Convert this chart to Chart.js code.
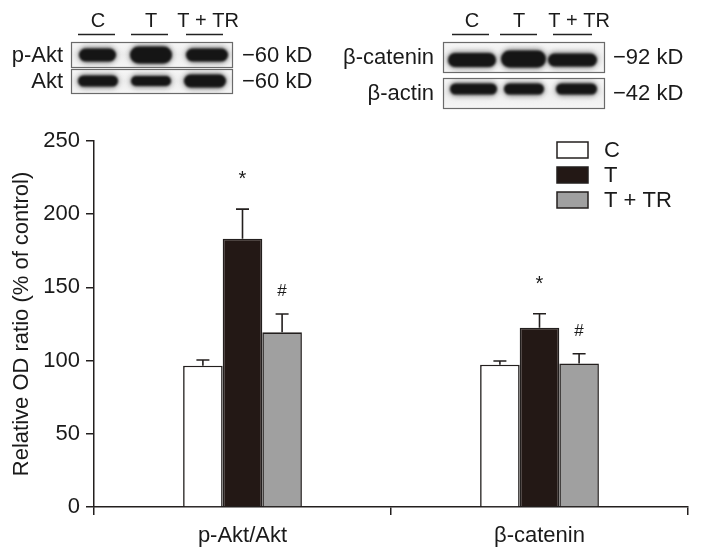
<!DOCTYPE html>
<html>
<head>
<meta charset="utf-8">
<script src="https://cdn.jsdelivr.net/npm/chart.js@4.4.0/dist/chart.umd.min.js"></script>
<style>
  html, body { margin: 0; padding: 0; background: #fff; }
  #wrap { width: 701px; height: 556px; }
</style>
</head>
<body>
<div id="wrap"><canvas id="odChart" width="701" height="556"></canvas></div>
<script>
// values
var groups = ['p-Akt/Akt', 'β-catenin'];
var seriesNames = ['C', 'T', 'T + TR'];
var valC = [96.5, 97.2];
var valT = [183.3, 122.5];
var valTR = [119.3, 98.1];
var errC = [3.9, 2.5];
var errT = [20.2, 9.5];
var errTR = [12.5, 6.6];
var markC = ['', ''];
var markT = ['*', '*'];
var markTR = ['#', '#'];
var yTicks = [0, 50, 100, 150, 200, 250];

var FONT = 'Liberation Sans, Arial, sans-serif';
var INK = '#231f1e';
var TXT = '#1a1a1a';

// western blot panels (decoration above the chart)
var blots = [
  {
    rowLabels: ['p-Akt', 'Akt'], kd: ['\u221260 kD', '\u221260 kD'],
    labelRight: 63, kdLeft: 242, boxX: [71, 232],
    rows: [[42, 67], [69, 93]],
    laneX: [98, 151, 208],
    underline: [[78, 115], [131, 168], [186, 223]],
    bands: [
      [[79, 116, 55, 13], [130, 172, 55, 17], [186, 228, 55, 13]],
      [[78, 118, 81, 11], [131, 171, 81, 10], [184, 226, 81, 13]]
    ]
  },
  {
    rowLabels: ['β-catenin', 'β-actin'], kd: ['\u221292 kD', '\u221242 kD'],
    labelRight: 434, kdLeft: 613, boxX: [443, 604],
    rows: [[42, 72], [78, 108]],
    laneX: [472, 519, 579],
    underline: [[452, 489], [500, 537], [553, 592]],
    bands: [
      [[448, 496, 60, 14], [501, 546, 59, 17], [548, 597, 60, 13]],
      [[450, 497, 89, 11], [504, 544, 89, 11], [556, 597, 89, 11]]
    ]
  }
];

function roundBand(ctx, x0, x1, yc, h) {
  var r = h / 2;
  ctx.beginPath();
  ctx.moveTo(x0 + r, yc - r);
  ctx.lineTo(x1 - r, yc - r);
  ctx.arc(x1 - r, yc, r, -Math.PI / 2, Math.PI / 2);
  ctx.lineTo(x0 + r, yc + r);
  ctx.arc(x0 + r, yc, r, Math.PI / 2, Math.PI * 1.5);
  ctx.closePath();
  ctx.fill();
}

var extrasPlugin = {
  id: 'extras',
  afterDatasetsDraw: function (chart) {
    var ctx = chart.ctx;
    var yScale = chart.scales.y;
    chart.data.datasets.forEach(function (ds, i) {
      var meta = chart.getDatasetMeta(i);
      meta.data.forEach(function (bar, j) {
        var base = yScale.getPixelForValue(ds.data[j]);
        var top = yScale.getPixelForValue(ds.data[j] + ds.errors[j]);
        ctx.save();
        ctx.strokeStyle = INK;
        ctx.lineWidth = 1.6;
        ctx.beginPath();
        ctx.moveTo(bar.x, base);
        ctx.lineTo(bar.x, top);
        ctx.moveTo(bar.x - 6.5, top);
        ctx.lineTo(bar.x + 6.5, top);
        ctx.stroke();
        var m = ds.marks[j];
        if (m) {
          ctx.fillStyle = TXT;
          ctx.textAlign = 'center';
          ctx.textBaseline = 'alphabetic';
          if (m === '*') {
            ctx.font = '20px ' + FONT;
            ctx.fillText(m, bar.x, top - 24);
          } else {
            ctx.font = '17px ' + FONT;
            ctx.fillText(m, bar.x, top - 18);
          }
        }
        ctx.restore();
      });
    });
  },
  afterDraw: function (chart) {
    var ctx = chart.ctx;
    // legend
    ctx.save();
    chart.data.datasets.forEach(function (ds, i) {
      var yc = 150 + i * 25;
      ctx.fillStyle = ds.backgroundColor;
      ctx.fillRect(557, yc - 8, 31, 16);
      ctx.strokeStyle = INK;
      ctx.lineWidth = 1.5;
      ctx.strokeRect(557, yc - 8, 31, 16);
      ctx.fillStyle = TXT;
      ctx.font = '22px ' + FONT;
      ctx.textAlign = 'left';
      ctx.textBaseline = 'middle';
      ctx.fillText(ds.label, 604, yc + 1);
    });
    ctx.restore();

    // blots
    blots.forEach(function (b) {
      ctx.save();
      ctx.font = '20px ' + FONT;
      ctx.fillStyle = TXT;
      ctx.textBaseline = 'alphabetic';
      ctx.textAlign = 'center';
      seriesNames.forEach(function (s, k) {
        ctx.fillText(s, b.laneX[k], 27);
        ctx.strokeStyle = '#222';
        ctx.lineWidth = 1.3;
        ctx.beginPath();
        ctx.moveTo(b.underline[k][0], 34.5);
        ctx.lineTo(b.underline[k][1], 34.5);
        ctx.stroke();
      });
      ctx.font = '22px ' + FONT;
      b.rows.forEach(function (r, ri) {
        var w = b.boxX[1] - b.boxX[0];
        var g = ctx.createLinearGradient(0, r[0], 0, r[1]);
        g.addColorStop(0, '#f7f7f7');
        g.addColorStop(0.5, '#ededed');
        g.addColorStop(1, '#f5f5f5');
        ctx.fillStyle = g;
        ctx.fillRect(b.boxX[0], r[0], w, r[1] - r[0]);
        ctx.save();
        ctx.beginPath();
        ctx.rect(b.boxX[0], r[0], w, r[1] - r[0]);
        ctx.clip();
        b.bands[ri].forEach(function (bd) {
          ctx.filter = 'blur(2.5px)';
          ctx.fillStyle = 'rgba(60,60,60,0.5)';
          roundBand(ctx, bd[0] - 1, bd[1] + 1, bd[2], bd[3] + 4);
          ctx.filter = 'blur(1.3px)';
          ctx.fillStyle = '#151515';
          roundBand(ctx, bd[0], bd[1], bd[2], bd[3]);
        });
        ctx.restore();
        ctx.filter = 'none';
        ctx.strokeStyle = '#6a6a6a';
        ctx.lineWidth = 1.2;
        ctx.strokeRect(b.boxX[0] + 0.5, r[0] + 0.5, w, r[1] - r[0]);
        var yc = (r[0] + r[1]) / 2;
        ctx.fillStyle = TXT;
        ctx.textBaseline = 'middle';
        ctx.textAlign = 'right';
        ctx.fillText(b.rowLabels[ri], b.labelRight, yc + 1);
        ctx.textAlign = 'left';
        ctx.fillText(b.kd[ri], b.kdLeft, yc + 1);
      });
      ctx.restore();
    });
  }
};

var ctx = document.getElementById('odChart').getContext('2d');
var odChart = new Chart(ctx, {
  type: 'bar',
  data: {
    labels: groups,
    datasets: [
      { label: seriesNames[0], data: valC, errors: errC, marks: markC, backgroundColor: '#ffffff' },
      { label: seriesNames[1], data: valT, errors: errT, marks: markT, backgroundColor: '#231815' },
      { label: seriesNames[2], data: valTR, errors: errTR, marks: markTR, backgroundColor: '#a0a0a0' }
    ].map(function (d) {
      d.borderColor = INK;
      d.borderWidth = 1.6;
      d.categoryPercentage = 0.4;
      d.barPercentage = 1.0;
      return d;
    })
  },
  options: {
    responsive: false,
    animation: false,
    devicePixelRatio: 1,
    layout: { padding: { top: 141, right: 13, left: 0, bottom: 0 } },
    plugins: { legend: { display: false }, tooltip: { enabled: false } },
    scales: {
      x: {
        offset: true,
        grid: { display: true, offset: true, drawOnChartArea: false, tickLength: 8, color: INK, lineWidth: 1.5 },
        border: { color: INK, width: 1.5 },
        ticks: { color: TXT, padding: 8, font: { family: FONT, size: 22 } },
        afterFit: function (scale) { scale.height = 49; }
      },
      y: {
        min: 0,
        max: 250,
        afterBuildTicks: function (scale) {
          scale.ticks = yTicks.map(function (v) { return { value: v }; });
        },
        grid: { display: true, drawOnChartArea: false, tickLength: 8, color: INK, lineWidth: 1.5 },
        border: { color: INK, width: 1.5 },
        ticks: { color: TXT, padding: 6, font: { family: FONT, size: 22 } },
        title: {
          display: true,
          text: 'Relative OD ratio (% of control)',
          color: TXT,
          font: { family: FONT, size: 22 },
          padding: { top: 9 }
        },
        afterFit: function (scale) { scale.width = 94; }
      }
    }
  },
  plugins: [extrasPlugin]
});
</script>
</body>
</html>
